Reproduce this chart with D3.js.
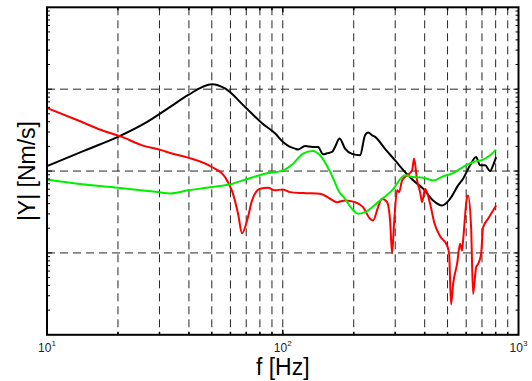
<!DOCTYPE html>
<html><head><meta charset="utf-8">
<script src="https://cdn.jsdelivr.net/npm/d3@7"></script>
<style>body{margin:0;background:#fff}svg{display:block}</style>
</head><body><svg id="c" width="532" height="381"></svg>
<script>
// ---- data (frequency in Hz, magnitude |Y|) ----
const freqBlack = [10,14.5,20,26.05,33.3,39.6,50,56.9,69.2,81.7,92.7,100.3,107.4,112.8,116.1,124.3,133.8,141.2,148.3,154.2,161.9,166.7,174.2,183.8,196.8,212.8,223.4,230.1,239.3,246.4,271.6,299.6,330.3,357.2,393.8,434.2,474.1,512.7,554.3,582.1,623.2,661,687.5,721.6,757.7,780.2,803.5];
const magBlack  = [0.115,0.179,0.261,0.384,0.607,0.845,1.15,1.02,0.607,0.384,0.289,0.2265,0.197,0.188,0.183,0.202,0.197,0.197,0.160,0.165,0.171,0.197,0.249,0.188,0.162,0.156,0.2735,0.295,0.2735,0.261,0.187,0.135,0.097,0.077,0.061,0.0438,0.038,0.0459,0.0668,0.0807,0.1175,0.148,0.1175,0.1175,0.100,0.1175,0.148];

const freqRed = [10,13.5,17.1,20.8,25.3,30.8,33.3,39.6,50,56.9,61.2,64.6,67.2,70.6,74.1,80.1,86.6,92.7,100.3,107.4,121.9,143.9,158.8,170,183.8,202.7,219.1,234.6,241.6,253.7,263.8,277,285.3,290.9,296.6,305.5,311.5,320.8,336.8,353.7,360.6,371.4,382.4,389.9,401.6,421.7,440,464.9,497.8,507.7,517.7,528,548.9,565.3,576.4,582.1,605.3,611.2,629.4,641.8,661,674.2,694.2,707.6,743,780.2,803.5];
const magRed  = [0.590,0.417,0.315,0.261,0.206,0.179,0.166,0.146,0.112,0.0845,0.0553,0.0303,0.0174,0.0249,0.0438,0.0609,0.0626,0.0581,0.0597,0.0553,0.0538,0.0529,0.0459,0.0417,0.0438,0.0417,0.0363,0.0261,0.0249,0.0363,0.0459,0.0417,0.0249,0.0099,0.0229,0.0581,0.0553,0.0769,0.0886,0.102,0.1419,0.0769,0.0553,0.0417,0.0609,0.0399,0.0230,0.0160,0.0123,0.0098,0.00235,0.00419,0.00735,0.0129,0.0107,0.0142,0.0481,0.0504,0.0206,0.00316,0.00668,0.00735,0.0098,0.0206,0.0261,0.033,0.038];

const freqGreen = [10,13.5,20,29.6,33.3,39.6,50,61.2,71.3,84.1,100.3,110.6,121.9,133.8,143.9,158.8,174.2,183.8,193.1,208.7,223.4,253.7,290.9,330.3,357.2,393.8,434.2,478.7,528,582.1,641.8,707.6,757.7,803.5];
const magGreen  = [0.0791,0.0701,0.0626,0.0553,0.0533,0.0581,0.0637,0.0701,0.0807,0.0929,0.102,0.123,0.1633,0.1758,0.1557,0.098,0.0548,0.0459,0.037,0.0301,0.0315,0.0417,0.0581,0.0886,0.0845,0.0831,0.0769,0.0862,0.0945,0.112,0.1289,0.1378,0.1557,0.1828];

const xTickValues = [10,100,1000];
const xTickExponents = ["1","2","3"];
const xLabel = "f [Hz]";
const yLabel = "|Y| [Nm/s]";

// ---- layout ----
const L = 47, R = 518.5, T = 7.3, B = 334.8;
const svg = d3.select("#c");
const x = d3.scaleLog().domain([10,1000]).range([L,R]);
const y = d3.scaleLog().domain([1e-3,1e1]).range([B,T]);

// grid
const xMinor = [];
[10,100].forEach(d=>{for(let k=2;k<=9;k++) xMinor.push(d*k);});
const xGrid = xMinor.concat([100]);
const yGrid = [1e-2,1e-1,1e0];
const g = svg.append("g");
g.selectAll(".vg").data(xGrid).enter().append("line")
  .attr("x1",d=>x(d)).attr("x2",d=>x(d)).attr("y1",T).attr("y2",B)
  .attr("stroke","#262626").attr("stroke-width",1).attr("stroke-dasharray","8,5");
g.selectAll(".hg").data(yGrid).enter().append("line")
  .attr("x1",L).attr("x2",R).attr("y1",d=>y(d)).attr("y2",d=>y(d))
  .attr("stroke","#262626").attr("stroke-width",1).attr("stroke-dasharray","8,5");

// curves
const line = d3.line().curve(d3.curveMonotoneX).x(d=>x(d[0])).y(d=>y(d[1]));
const series = [
  {f:freqBlack, m:magBlack, c:"#000000"},
  {f:freqRed, m:magRed, c:"#ff0000"},
  {f:freqGreen, m:magGreen, c:"#00ee00"}
];
series.forEach(s=>{
  svg.append("path").datum(s.f.map((f,i)=>[f,s.m[i]]))
    .attr("d",line).attr("fill","none").attr("stroke",s.c)
    .attr("stroke-width",2).attr("stroke-linejoin","round");
});

// ticks on all sides (inward)
const ax = svg.append("g").attr("stroke","#000");
const yMinor = [];
[1e-3,1e-2,1e-1,1e0].forEach(d=>{for(let k=2;k<=9;k++) yMinor.push(d*k);});
yMinor.forEach(v=>{
  ax.append("line").attr("x1",L).attr("x2",L+3).attr("y1",y(v)).attr("y2",y(v)).attr("stroke-width",1);
  ax.append("line").attr("x1",R-3).attr("x2",R).attr("y1",y(v)).attr("y2",y(v)).attr("stroke-width",1);
});
[1e-2,1e-1,1e0].forEach(v=>{
  ax.append("line").attr("x1",L).attr("x2",L+5).attr("y1",y(v)).attr("y2",y(v)).attr("stroke-width",1);
  ax.append("line").attr("x1",R-5).attr("x2",R).attr("y1",y(v)).attr("y2",y(v)).attr("stroke-width",1);
});
xMinor.forEach(v=>{
  ax.append("line").attr("x1",x(v)).attr("x2",x(v)).attr("y1",B).attr("y2",B-3).attr("stroke-width",1.5);
  ax.append("line").attr("x1",x(v)).attr("x2",x(v)).attr("y1",T).attr("y2",T+3).attr("stroke-width",1.5);
});
ax.append("line").attr("x1",x(100)).attr("x2",x(100)).attr("y1",B).attr("y2",B-5).attr("stroke-width",1.5);
ax.append("line").attr("x1",x(100)).attr("x2",x(100)).attr("y1",T).attr("y2",T+5).attr("stroke-width",1.5);

// frame
svg.append("rect").attr("x",L).attr("y",T).attr("width",R-L).attr("height",B-T)
  .attr("fill","none").attr("stroke","#000").attr("stroke-width",2);

// x tick labels
const font = "Liberation Sans, Arial, Helvetica, sans-serif";
xTickValues.forEach((v,i)=>{
  const t = svg.append("text").attr("x",x(v)).attr("y",352)
    .attr("text-anchor","middle").attr("font-family",font).attr("font-size",12).attr("fill","#222");
  t.append("tspan").text("10");
  t.append("tspan").attr("font-size",8).attr("dy",-6).text(xTickExponents[i]);
});

// axis labels
svg.append("text").attr("x",(L+R)/2).attr("y",375).attr("text-anchor","middle")
  .attr("font-family",font).attr("font-size",23).attr("fill","#000").text(xLabel);
svg.append("text").attr("transform",`translate(35,${(T+B)/2}) rotate(-90)`).attr("text-anchor","middle")
  .attr("font-family",font).attr("font-size",23).attr("fill","#000").text(yLabel);
</script></body></html>
